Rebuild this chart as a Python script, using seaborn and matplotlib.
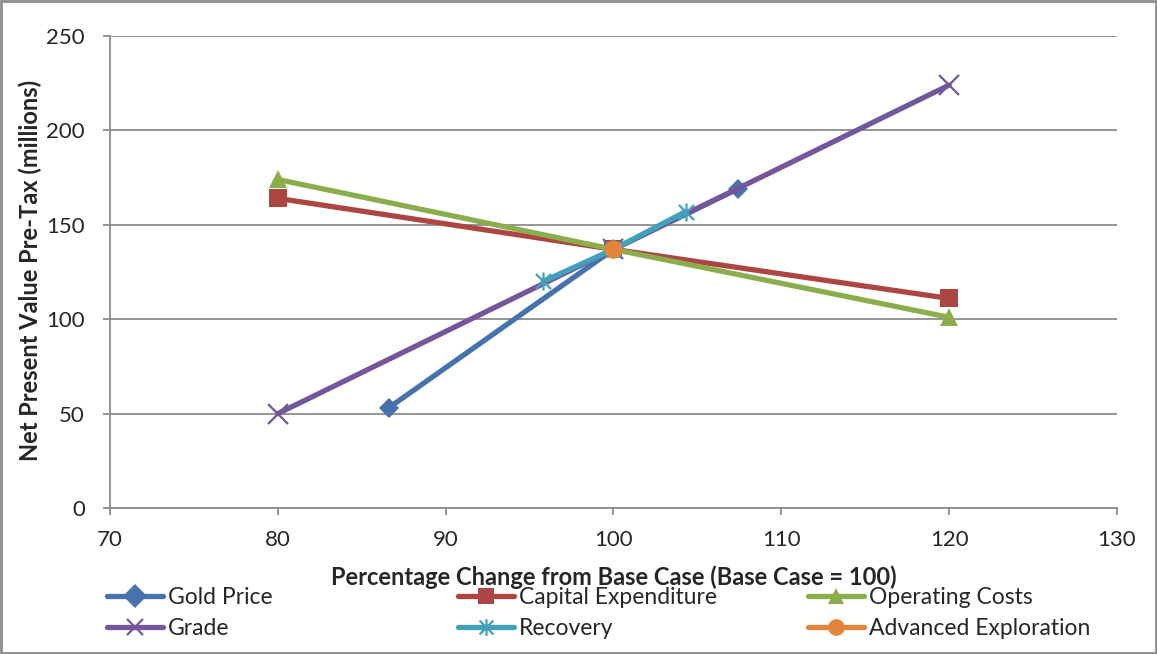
import matplotlib
matplotlib.use("Agg")
import matplotlib.pyplot as plt
import seaborn as sns
import pandas as pd
from matplotlib.patches import Rectangle
from matplotlib.path import Path

sns.set_style("white")
plt.rcParams['font.family'] = ['Lato', 'DejaVu Sans']

# Data
series_names = ["Gold Price", "Capital Expenditure", "Operating Costs",
                "Grade", "Recovery", "Advanced Exploration"]
gold_x = [86.6, 100, 107.4]
gold_y = [53, 137, 169]
capex_x = [80, 100, 120]
capex_y = [164, 137, 111]
opex_x = [80, 100, 120]
opex_y = [174, 137, 101]
grade_x = [80, 100, 120]
grade_y = [50, 137, 224]
recovery_x = [95.8, 100, 104.3]
recovery_y = [120, 137, 157]
advexp_x = [100]
advexp_y = [137]

xs = [gold_x, capex_x, opex_x, grade_x, recovery_x, advexp_x]
ys = [gold_y, capex_y, opex_y, grade_y, recovery_y, advexp_y]
colors = ["#4673AD", "#AD4543", "#8BAE4D", "#73579A", "#41A0BA", "#E2843A"]

# Excel-style star marker: X plus a vertical bar
star = Path([(-1, -1), (1, 1), (-1, 1), (1, -1), (0, -1.2), (0, 1.2)],
            [Path.MOVETO, Path.LINETO, Path.MOVETO, Path.LINETO, Path.MOVETO, Path.LINETO])
markers = ["D", "s", "^", "x", star, "o"]
msizes = [10, 13, 13, 14, 13, 13]

W, H = 1157, 654
fig = plt.figure(figsize=(W / 100, H / 100), dpi=100)
ax = fig.add_axes([110 / W, 1 - 508 / H, (1117 - 110) / W, (508 - 36) / H])

handles = {}
for i, (name, x, y, c, m, ms) in enumerate(zip(series_names, xs, ys, colors, markers, msizes)):
    df = pd.DataFrame({"x": x, "y": y})
    lined = i in (3, 4)
    sns.lineplot(data=df, x="x", y="y", ax=ax, color=c, lw=3.8, marker=m,
                 markersize=ms, markeredgecolor=c,
                 markeredgewidth=1.6 if lined else 0,
                 sort=False, estimator=None, label=name, legend=False)
    handles[name] = ax.lines[-1]

ax.set_xlim(70, 130)
ax.set_ylim(0, 250)
ax.set_xticks(range(70, 131, 10))
ax.set_yticks(range(0, 251, 50))
ax.grid(axis="y", color="#8c8c8c", lw=1.3)
ax.grid(axis="x", visible=False)
ax.set_axisbelow(True)
for s in ["top", "right"]:
    ax.spines[s].set_visible(False)
for s in ["left", "bottom"]:
    ax.spines[s].set_color("#8c8c8c")
    ax.spines[s].set_linewidth(1.3)
ax.tick_params(axis="both", which="both", direction="out", length=5, width=1.3,
               color="#8c8c8c", labelsize=16, left=True, bottom=True)
ax.tick_params(axis="y", pad=13)
ax.tick_params(axis="x", pad=11)

ax.set_xlabel("Percentage Change from Base Case (Base Case = 100)", fontsize=17,
              fontweight="bold", va="center")
ax.xaxis.set_label_coords(0.5, (508 - 577) / 472)
ax.set_ylabel("Net Present Value Pre-Tax (millions)", fontsize=17, fontweight="bold",
              va="center")
ax.yaxis.set_label_coords((30 - 110) / 1007, (508 - 270) / 472)

cols = [["Gold Price", "Grade"], ["Capital Expenditure", "Recovery"],
        ["Operating Costs", "Advanced Exploration"]]
col_x = [107, 458, 808]
for names, xl in zip(cols, col_x):
    leg = fig.legend([handles[n] for n in names], names, loc="upper left",
                     bbox_to_anchor=(xl / W, 1 - 587 / H), frameon=False, fontsize=16.5,
                     handlelength=2.45, handletextpad=0.2, labelspacing=0.45,
                     borderpad=0, borderaxespad=0)
    for h in leg.legend_handles:
        h.set_markersize(12)

fig.patches.append(Rectangle((1 / W, 1 / H), (W - 2) / W, (H - 2) / H,
                             transform=fig.transFigure, fill=False,
                             edgecolor="#8c8c8c", lw=2))

fig.savefig("out.png", dpi=100)
